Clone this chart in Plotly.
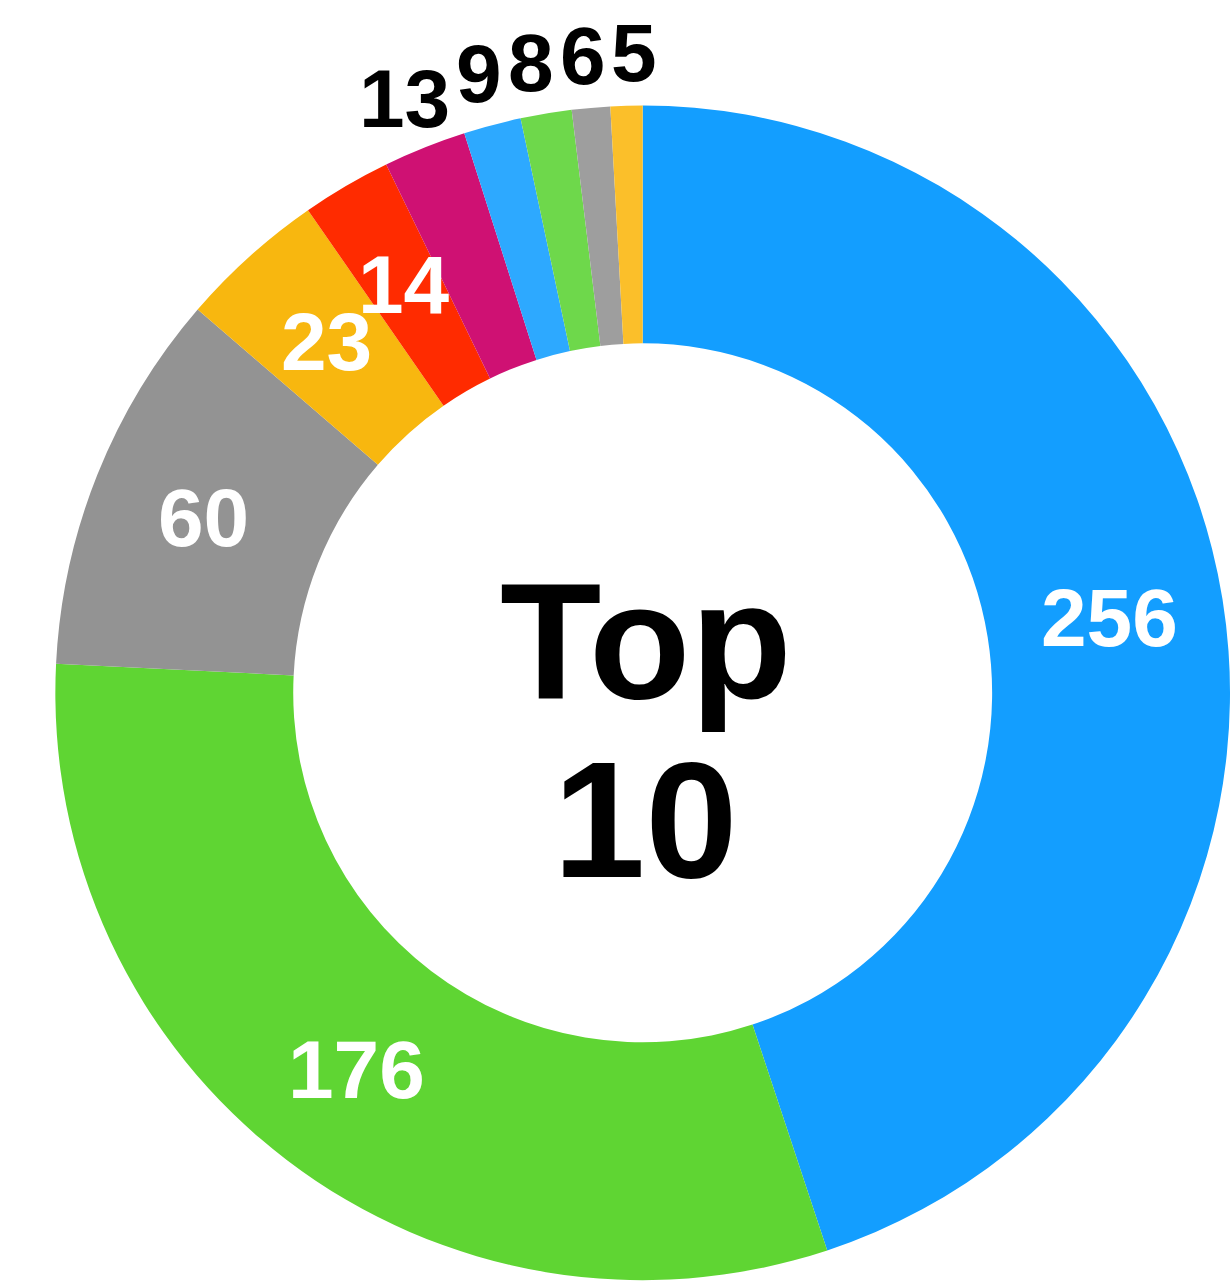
import math
import plotly.graph_objects as go

# ---- data ----
values = [256, 176, 60, 23, 14, 13, 9, 8, 6, 5]
colors = ["#139EFF", "#5FD533", "#939393", "#F8B70F", "#FF2B00",
          "#CF1173", "#2DA9FF", "#6ED84B", "#9E9E9E", "#FBBF2A"]
inside_min = 14          # values >= this get a white label inside the ring
center_lines = ["Top", "10"]

W, H = 1230, 1283
dom_x = [0.045, 1.0]
dom_y = [0.0, 0.92]
hole = 0.595
FONT = "Liberation Sans, Arial, Helvetica, sans-serif"
LABEL_SIZE = 82

fig = go.Figure(go.Pie(
    values=values,
    textinfo="none",
    sort=False,
    direction="clockwise",
    rotation=0,
    hole=hole,
    marker=dict(colors=colors, line=dict(width=0)),
    domain=dict(x=dom_x, y=dom_y),
    hoverinfo="skip",
    showlegend=False,
))

# pie geometry in pixels (derived from the domain, as Plotly computes it)
dw = (dom_x[1] - dom_x[0]) * W
dh = (dom_y[1] - dom_y[0]) * H
R = min(dw, dh) / 2
cx = (dom_x[0] + dom_x[1]) / 2 * W
cy = H - (dom_y[0] + dom_y[1]) / 2 * H  # from top

total = sum(values)
mids = []
cum = 0
for v in values:
    mids.append((cum + v / 2) / total * 2 * math.pi)
    cum += v

annotations = []

# labels inside the ring (at the middle of the ring)
r_in = R * 0.805
for v, a in zip(values, mids):
    if v < inside_min:
        continue
    annotations.append(dict(
        x=(cx + r_in * math.sin(a)) / W, y=1 - (cy - r_in * math.cos(a)) / H,
        xref="paper", yref="paper", text=str(v), showarrow=False,
        xanchor="center", yanchor="middle",
        font=dict(family=FONT, size=LABEL_SIZE, color="white", weight="bold"),
    ))

# labels outside the ring, spread horizontally so they do not collide
r_out = R * 1.09
outs = [(v, a) for v, a in zip(values, mids) if v < inside_min]
xs = [cx + r_out * math.sin(a) for _, a in outs]
wid = [len(str(v)) * 0.556 * LABEL_SIZE for v, _ in outs]
for _ in range(200):
    for i in range(len(xs) - 1):
        need = (wid[i] + wid[i + 1]) / 2 + 6
        gap = xs[i + 1] - xs[i]
        if gap < need:
            d = (need - gap) / 2
            xs[i] -= d
            xs[i + 1] += d
for (v, a), x in zip(outs, xs):
    dx = x - cx
    y = cy - math.sqrt(max(r_out ** 2 - dx ** 2, 0))
    annotations.append(dict(
        x=x / W, y=1 - y / H, xref="paper", yref="paper",
        text=str(v), showarrow=False, xanchor="center", yanchor="middle",
        font=dict(family=FONT, size=LABEL_SIZE, color="black", weight="bold"),
    ))

# centre title
offsets = [-52, 127]
for line, off in zip(center_lines, offsets):
    annotations.append(dict(
        x=(cx + 3) / W, y=1 - (cy + off) / H, xref="paper", yref="paper",
        text=line, showarrow=False, xanchor="center", yanchor="middle",
        font=dict(family=FONT, size=166, color="black", weight="bold"),
    ))

fig.update_layout(
    width=W, height=H,
    margin=dict(l=0, r=0, t=0, b=0),
    paper_bgcolor="white",
    plot_bgcolor="white",
    annotations=annotations,
)

fig.write_html(
    "out.html",
    config={"displayModeBar": False},
    post_script="document.body.style.margin='0';document.body.style.overflow='hidden';",
)
